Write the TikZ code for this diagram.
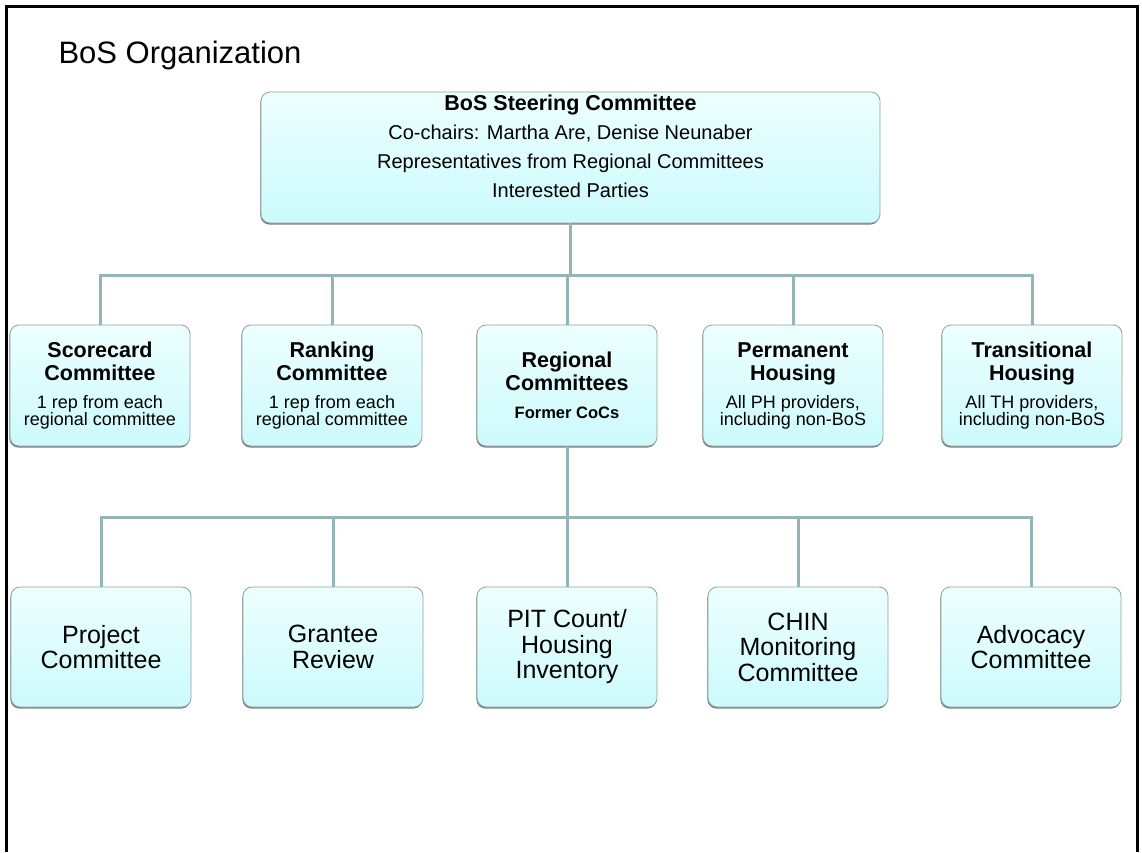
\documentclass[tikz,border=0pt]{standalone}
\usepackage{fontspec}
\setmainfont{Liberation Sans}
\usepackage{xcolor}
\usepackage{tikz}
\usetikzlibrary{shadows,calc}

\definecolor{boxtop}{HTML}{EDFFFF}
\definecolor{boxbot}{HTML}{CCFAFC}
\definecolor{boxline}{HTML}{8FA0A0}
\definecolor{linkcol}{HTML}{94B4B7}

\newcommand{\hd}{\fontsize{21.5}{23}\selectfont\bfseries}
\newcommand{\subtxt}{\fontsize{18}{23}\selectfont\mdseries}

\begin{document}
\begin{tikzpicture}[x=1pt,y=-1pt,
        orgbox/.style={rounded corners=9pt, draw=boxline, line width=0.8pt,
            top color=boxtop, bottom color=boxbot,
            drop shadow={shadow xshift=-0.6pt, shadow yshift=-1.6pt, fill=black!70, opacity=0.7},
            minimum width=180pt, minimum height=121pt, align=center, inner sep=2pt},
        lowbox/.style={orgbox, minimum height=120pt, font=\fontsize{25}{25.5}\selectfont},
        link/.style={draw=linkcol, line width=3pt}]
        \useasboundingbox (0,0) rectangle (1142,852);
        \draw[line width=3pt] (6.5,852) -- (6.5,6.5) -- (1137.5,6.5) -- (1137.5,852); % frame, open at the bottom

        \node[anchor=base west, font=\fontsize{31}{36}\selectfont] (ttl) at (55,63) {BoS Organization};

        % top
        \node[orgbox, minimum width=619pt, minimum height=131pt, text depth=22pt,
            font=\fontsize{20}{29}\selectfont] (steer) at (570.5,157.5)
            {{\bfseries\fontsize{21.5}{29}\selectfont BoS Steering Committee}\\Co-chairs: Martha Are, Denise Neunaber\\Representatives from Regional Committees\\Interested Parties};

        % second row
        \node[orgbox, font=\hd] (sc) at (100,385.5) {{\hd Scorecard}\\{\hd Committee}\\[5pt]{\subtxt 1 rep from each}\\[-6pt]{\subtxt regional committee}};
        \node[orgbox, font=\hd] (rk) at (332,385.5) {{\hd Ranking}\\{\hd Committee}\\[5pt]{\subtxt 1 rep from each}\\[-6pt]{\subtxt regional committee}};
        \node[orgbox, font=\hd] (rg) at (567,385.5) {{\hd Regional}\\{\hd Committees}\\[5pt]{\bfseries\fontsize{16.5}{23}\selectfont Former CoCs}};
        \node[orgbox, font=\hd] (ph) at (793,385.5) {{\hd Permanent}\\{\hd Housing}\\[5pt]{\subtxt All PH providers,}\\[-6pt]{\subtxt including non-BoS}};
        \node[orgbox, font=\hd] (th) at (1032,385.5) {{\hd Transitional}\\{\hd Housing}\\[5pt]{\subtxt All TH providers,}\\[-6pt]{\subtxt including non-BoS}};

        % third row
        \node[lowbox] (proj) at (101,647) {Project\\Committee};
        \node[lowbox] (gr) at (333,647) {Grantee\\Review};
        \node[lowbox] (pit) at (567,647) {PIT Count/\\Housing\\Inventory};
        \node[lowbox] (chin) at (798,647) {CHIN\\Monitoring\\Committee};
        \node[lowbox] (adv) at (1031,647) {Advocacy\\Committee};

        % connectors
        \coordinate (busa) at (570.5,275);
        \coordinate (busb) at (567,517);
        \draw[link] (steer.south) -- (busa);
        \foreach \b in {sc,rk,rg,ph,th}
            \draw[link] (busa) -| (\b.north);
        \draw[link] (rg.south) -- (busb);
        \foreach \b in {proj,gr,pit,chin,adv}
            \draw[link] (busb) -| (\b.north);
    \end{tikzpicture}
\end{document}
